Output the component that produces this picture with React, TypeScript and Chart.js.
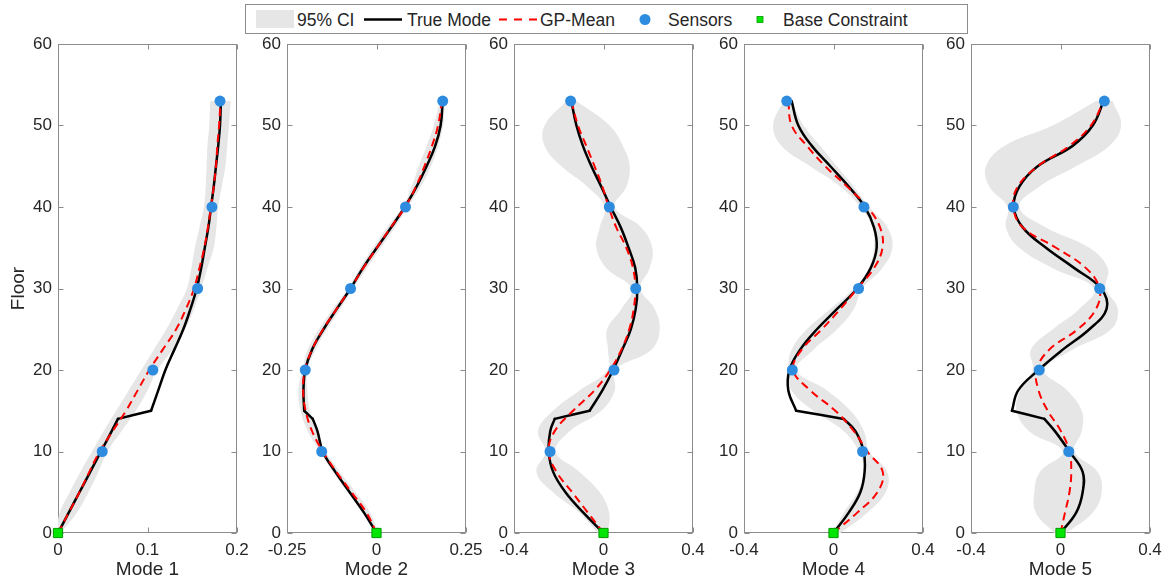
import React, { useEffect, useRef } from 'react';
import { Chart, registerables } from 'chart.js';

Chart.register(...registerables);
Chart.defaults.font.family = "'Liberation Sans', Arial, sans-serif";

// ---------------- DATA ----------------
const FLOORS = [0, 2.5, 5, 7.5, 10, 12.5, 15, 17.5, 20, 22.5, 25, 27.5, 30, 32.5, 35, 37.5, 40, 42.5, 45, 47.5, 50, 53];
const TRUE_FLOORS = [0, 2.5, 5, 7.5, 10, 12.5, 14, 15, 17.5, 20, 22.5, 25, 27.5, 30, 32.5, 35, 37.5, 40, 42.5, 45, 47.5, 50, 53];
const KINK_FLOORS = [14, 15];
const SENSOR_FLOORS = [10, 20, 30, 40, 53];
const BASE_FLOORS = [0];
const BASE_VALUES = [0];
const Y_TICKS = [0, 10, 20, 30, 40, 50, 60];

const MODE_LABELS = ['Mode 1', 'Mode 2', 'Mode 3', 'Mode 4', 'Mode 5'];
const X_TICKS = [
  [0, 0.1, 0.2],
  [-0.25, 0, 0.25],
  [-0.4, 0, 0.4],
  [-0.4, 0, 0.4],
  [-0.4, 0, 0.4],
];

// Mode 1
const MODE1_TRUE = [0, 0.012, 0.024, 0.036, 0.048, 0.06, 0.067, 0.104, 0.112, 0.12, 0.13, 0.14, 0.148, 0.155, 0.16, 0.164, 0.168, 0.171, 0.174, 0.1765, 0.179, 0.181, 0.182];
const MODE1_MEAN = [0, 0.012, 0.024, 0.035, 0.0465, 0.061, 0.076, 0.089, 0.102, 0.117, 0.132, 0.143, 0.152, 0.158, 0.1635, 0.1675, 0.171, 0.174, 0.1765, 0.178, 0.18, 0.1815];
const MODE1_LO = [-0.002, 0.002, 0.013, 0.025, 0.038, 0.051, 0.065, 0.079, 0.093, 0.107, 0.121, 0.133, 0.144, 0.149, 0.153, 0.158, 0.163, 0.165, 0.166, 0.167, 0.169, 0.17];
const MODE1_HI = [0.003, 0.021, 0.034, 0.045, 0.055, 0.071, 0.087, 0.1, 0.111, 0.128, 0.142, 0.152, 0.16, 0.167, 0.174, 0.177, 0.179, 0.183, 0.187, 0.189, 0.191, 0.193];
const MODE1_SENSORS = [0.0494, 0.106, 0.156, 0.172, 0.181];

// Mode 2
const MODE2_TRUE = [0, -0.035, -0.075, -0.115, -0.15, -0.165, -0.178, -0.202, -0.204, -0.199, -0.18, -0.148, -0.111, -0.0725, -0.038, 0.001, 0.041, 0.079, 0.112, 0.14, 0.164, 0.179, 0.185];
const MODE2_MEAN = [0, -0.028, -0.07, -0.112, -0.15, -0.18, -0.198, -0.205, -0.2, -0.18, -0.149, -0.111, -0.073, -0.037, 0.001, 0.04, 0.08, 0.11, 0.134, 0.155, 0.172, 0.183];
const MODE2_LO = [-0.005, -0.038, -0.08, -0.122, -0.158, -0.192, -0.212, -0.218, -0.207, -0.192, -0.161, -0.122, -0.079, -0.047, -0.01, 0.029, 0.073, 0.098, 0.118, 0.14, 0.16, 0.177];
const MODE2_HI = [0.005, -0.018, -0.058, -0.102, -0.143, -0.168, -0.186, -0.193, -0.193, -0.17, -0.138, -0.101, -0.066, -0.027, 0.012, 0.051, 0.087, 0.124, 0.152, 0.172, 0.186, 0.19];
const MODE2_SENSORS = [-0.153, -0.199, -0.0725, 0.081, 0.185];

// Mode 3
const MODE3_TRUE = [0, -0.09, -0.17, -0.225, -0.245, -0.238, -0.218, -0.062, -0.005, 0.043, 0.084, 0.122, 0.144, 0.151, 0.142, 0.112, 0.077, 0.032, -0.01, -0.054, -0.092, -0.121, -0.144];
const MODE3_MEAN = [0, -0.07, -0.14, -0.21, -0.245, -0.218, -0.136, -0.04, 0.03, 0.08, 0.115, 0.135, 0.142, 0.132, 0.102, 0.057, 0.023, -0.005, -0.04, -0.077, -0.114, -0.144];
const MODE3_LO = [-0.025, -0.107, -0.226, -0.3, -0.259, -0.293, -0.226, -0.107, 0.018, 0.02, 0.016, 0.08, 0.125, 0.013, -0.032, -0.017, 0.005, -0.072, -0.188, -0.263, -0.263, -0.166];
const MODE3_HI = [0.02, 0.025, -0.017, -0.107, -0.214, -0.151, -0.01, 0.05, 0.052, 0.214, 0.251, 0.229, 0.165, 0.206, 0.218, 0.169, 0.05, 0.102, 0.117, 0.087, 0.027, -0.121];
const MODE3_SENSORS = [-0.239, 0.047, 0.144, 0.026, -0.147];

// Mode 4
const MODE4_TRUE = [0, 0.068, 0.12, 0.139, 0.135, 0.098, 0.046, -0.167, -0.202, -0.197, -0.149, -0.074, 0.016, 0.106, 0.166, 0.193, 0.181, 0.14, 0.068, -0.014, -0.097, -0.157, -0.187];
const MODE4_MEAN = [0, 0.106, 0.196, 0.22, 0.151, 0.091, 0.008, -0.104, -0.18, -0.142, -0.052, 0.031, 0.106, 0.181, 0.219, 0.208, 0.151, 0.061, -0.037, -0.119, -0.187, -0.202];
const MODE4_LO = [-0.007, 0.046, 0.106, 0.136, 0.113, 0.046, -0.089, -0.187, -0.202, -0.187, -0.119, -0.014, 0.091, 0.158, 0.181, 0.173, 0.121, 0.031, -0.104, -0.232, -0.27, -0.224];
const MODE4_HI = [0.031, 0.151, 0.233, 0.24, 0.16, 0.136, 0.076, -0.029, -0.164, -0.089, 0.016, 0.091, 0.128, 0.218, 0.263, 0.241, 0.16, 0.091, 0.016, -0.059, -0.134, -0.187];
const MODE4_SENSORS = [0.13, -0.184, 0.112, 0.136, -0.209];

// Mode 5
const MODE5_TRUE = [0, 0.07, 0.099, 0.099, 0.04, -0.025, -0.072, -0.217, -0.189, -0.098, 0.01, 0.129, 0.206, 0.181, 0.062, -0.065, -0.169, -0.209, -0.184, -0.102, 0.054, 0.144, 0.193];
const MODE5_MEAN = [0, 0.02, 0.04, 0.048, 0.04, 0.002, -0.057, -0.098, -0.107, -0.05, 0.077, 0.159, 0.174, 0.114, -0.02, -0.169, -0.211, -0.191, -0.102, 0.04, 0.136, 0.193];
const MODE5_LO = [-0.027, -0.11, -0.117, -0.092, 0.01, -0.14, -0.196, -0.18, -0.124, -0.132, -0.035, 0.084, 0.151, -0.035, -0.184, -0.244, -0.236, -0.318, -0.333, -0.251, -0.035, 0.159];
const MODE5_HI = [0.025, 0.144, 0.184, 0.166, 0.062, 0.095, 0.095, 0.03, -0.072, 0.054, 0.226, 0.256, 0.203, 0.211, 0.129, -0.065, -0.184, -0.095, 0.069, 0.218, 0.271, 0.233];
const MODE5_SENSORS = [0.037, -0.095, 0.175, -0.211, 0.196];

const LEGEND_LABELS = ['95% CI', 'True Mode', 'GP-Mean', 'Sensors', 'Base Constraint'];

const PANELS = [
  { trueMode: MODE1_TRUE, mean: MODE1_MEAN, lo: MODE1_LO, hi: MODE1_HI, sensors: MODE1_SENSORS },
  { trueMode: MODE2_TRUE, mean: MODE2_MEAN, lo: MODE2_LO, hi: MODE2_HI, sensors: MODE2_SENSORS },
  { trueMode: MODE3_TRUE, mean: MODE3_MEAN, lo: MODE3_LO, hi: MODE3_HI, sensors: MODE3_SENSORS },
  { trueMode: MODE4_TRUE, mean: MODE4_MEAN, lo: MODE4_LO, hi: MODE4_HI, sensors: MODE4_SENSORS },
  { trueMode: MODE5_TRUE, mean: MODE5_MEAN, lo: MODE5_LO, hi: MODE5_HI, sensors: MODE5_SENSORS },
];

// ---------------- LAYOUT / STYLE ----------------
const W = 1167;
const H = 586;
const PLOT_LEFT = [58, 287, 514, 744, 971];
const PLOT_W = 179;
const PLOT_TOP = 44;
const PLOT_BOTTOM = 533;
const Y_AXIS_W = 60;
const RIGHT_PAD = 30;
const TEXT = '#262626';
const AXIS = '#8c8c8c';
const CI_COLOR = '#e6e6e6';
const MEAN_COLOR = '#ff0000';
const SENSOR_COLOR = '#2d8ce0';
const BASE_FILL = '#00e600';
const BASE_EDGE = '#009a00';

const boxPlugin = {
  id: 'matlabBox',
  beforeDatasetsDraw(chart: any) {
    const { ctx, chartArea: a, scales } = chart;
    ctx.save();
    ctx.strokeStyle = AXIS;
    ctx.lineWidth = 1;
    const L = Math.round(a.left) + 0.5;
    const R = Math.round(a.right) - 0.5;
    const T = Math.round(a.top) + 0.5;
    const B = Math.round(a.bottom) - 0.5;
    ctx.strokeRect(L, T, R - L, B - T);
    ctx.beginPath();
    for (const t of scales.x.ticks) {
      const x = Math.round(scales.x.getPixelForValue(t.value)) + 0.5;
      ctx.moveTo(x, B); ctx.lineTo(x, B - 5);
      ctx.moveTo(x, T); ctx.lineTo(x, T + 5);
    }
    for (const t of scales.y.ticks) {
      const y = Math.round(scales.y.getPixelForValue(t.value)) + 0.5;
      ctx.moveTo(L, y); ctx.lineTo(L + 5, y);
      ctx.moveTo(R, y); ctx.lineTo(R - 5, y);
    }
    ctx.stroke();
    ctx.restore();
  },
};

const toPoints = (ys: number[], xs: number[]) => ys.map((y, i) => ({ x: xs[i], y }));

function Panel({ idx }: { idx: number }) {
  const ref = useRef<HTMLCanvasElement>(null);
  useEffect(() => {
    const p = PANELS[idx];
    const ticks = X_TICKS[idx];
    const truePts = toPoints(TRUE_FLOORS, p.trueMode);
    const k1 = TRUE_FLOORS.indexOf(KINK_FLOORS[0]);
    const k2 = TRUE_FLOORS.indexOf(KINK_FLOORS[1]);
    const trueParts = [truePts.slice(0, k1 + 1), truePts.slice(k1, k2 + 1), truePts.slice(k2)];
    const chart = new Chart(ref.current as HTMLCanvasElement, {
      type: 'line',
      data: {
        datasets: [
          { data: toPoints(FLOORS, p.lo), borderWidth: 0, pointRadius: 0, fill: false, tension: 0.4, order: 10 },
          { data: toPoints(FLOORS, p.hi), borderWidth: 0, pointRadius: 0, fill: '-1', backgroundColor: CI_COLOR, tension: 0.4, order: 9 },
          ...trueParts.map((d) => ({ data: d, borderColor: '#000000', borderWidth: 2.5, pointRadius: 0, fill: false, tension: 0.4, order: 3, borderCapStyle: 'round', borderJoinStyle: 'round' })),
          { data: toPoints(FLOORS, p.mean), borderColor: MEAN_COLOR, borderDash: [8, 5], borderWidth: 2, pointRadius: 0, fill: false, tension: 0.4, order: 2 },
          { data: toPoints(SENSOR_FLOORS, p.sensors), showLine: false, pointRadius: 5.5, backgroundColor: SENSOR_COLOR, borderWidth: 0, order: 1, clip: false },
          { data: toPoints(BASE_FLOORS, BASE_VALUES), showLine: false, pointStyle: 'rect', pointRadius: 6.5, backgroundColor: BASE_FILL, borderColor: BASE_EDGE, borderWidth: 1, order: 0, clip: false },
        ] as any,
      },
      options: {
        animation: false,
        responsive: false,
        maintainAspectRatio: false,
        indexAxis: 'y',
        events: [],
        layout: { padding: { left: 0, right: RIGHT_PAD, top: PLOT_TOP, bottom: 0 } },
        plugins: { legend: { display: false }, tooltip: { enabled: false }, title: { display: false } },
        scales: {
          x: {
            type: 'linear',
            position: 'bottom',
            min: ticks[0],
            max: ticks[ticks.length - 1],
            afterBuildTicks: (s: any) => { s.ticks = ticks.map((v) => ({ value: v })); },
            afterFit: (s: any) => { s.height = H - PLOT_BOTTOM; },
            grid: { display: false, drawTicks: false },
            border: { display: false },
            ticks: { padding: 7, color: TEXT, font: { size: 17 }, maxRotation: 0, autoSkip: false, callback: (v: any) => String(v) },
            title: { display: true, text: MODE_LABELS[idx], color: TEXT, font: { size: 19 }, padding: { top: 0, bottom: 5 } },
          },
          y: {
            type: 'linear',
            position: 'left',
            min: Y_TICKS[0],
            max: Y_TICKS[Y_TICKS.length - 1],
            afterBuildTicks: (s: any) => { s.ticks = Y_TICKS.map((v) => ({ value: v })); },
            afterFit: (s: any) => { s.width = Y_AXIS_W; },
            grid: { display: false, drawTicks: false },
            border: { display: false },
            ticks: { padding: 6, color: TEXT, font: { size: 17 }, autoSkip: false, callback: (v: any) => String(v) },
            title: { display: idx === 0, text: 'Floor', color: TEXT, font: { size: 19 }, padding: { top: 9, bottom: 0 } },
          },
        },
      } as any,
      plugins: [boxPlugin],
    });
    return () => chart.destroy();
  }, [idx]);
  const cw = Y_AXIS_W + PLOT_W + RIGHT_PAD;
  return (
    <canvas
      ref={ref}
      width={cw}
      height={H}
      style={{ position: 'absolute', left: PLOT_LEFT[idx] - Y_AXIS_W, top: 0, width: cw, height: H }}
    />
  );
}

function Legend() {
  const ty = 15.5;
  const textStyle = { fontFamily: "'Liberation Sans', Arial, sans-serif", fontSize: 17.5, fill: TEXT } as any;
  return (
    <svg width={723} height={31} style={{ position: 'absolute', left: 245, top: 4 }}>
      <rect x={0.5} y={0.5} width={722} height={29} fill="#ffffff" stroke={AXIS} strokeWidth={1} />
      <rect x={11} y={6} width={38} height={18} fill={CI_COLOR} />
      <text x={52} y={ty} dominantBaseline="central" style={textStyle}>{LEGEND_LABELS[0]}</text>
      <line x1={119} x2={157} y1={ty} y2={ty} stroke="#000000" strokeWidth={2.5} />
      <text x={162} y={ty} dominantBaseline="central" style={textStyle}>{LEGEND_LABELS[1]}</text>
      <line x1={254} x2={292} y1={ty} y2={ty} stroke={MEAN_COLOR} strokeWidth={2} strokeDasharray="8 7" />
      <text x={295} y={ty} dominantBaseline="central" style={textStyle}>{LEGEND_LABELS[2]}</text>
      <circle cx={400} cy={ty} r={5.5} fill={SENSOR_COLOR} />
      <text x={423} y={ty} dominantBaseline="central" style={textStyle}>{LEGEND_LABELS[3]}</text>
      <rect x={512} y={ty - 3} width={6} height={6} fill={BASE_FILL} stroke={BASE_EDGE} strokeWidth={0.8} />
      <text x={538} y={ty} dominantBaseline="central" style={textStyle}>{LEGEND_LABELS[4]}</text>
    </svg>
  );
}

export default function App() {
  return (
    <div style={{ position: 'fixed', left: 0, top: 0, width: W, height: H, overflow: 'hidden', background: '#ffffff' }}>
      {PANELS.map((_, i) => (
        <Panel key={i} idx={i} />
      ))}
      <Legend />
    </div>
  );
}
